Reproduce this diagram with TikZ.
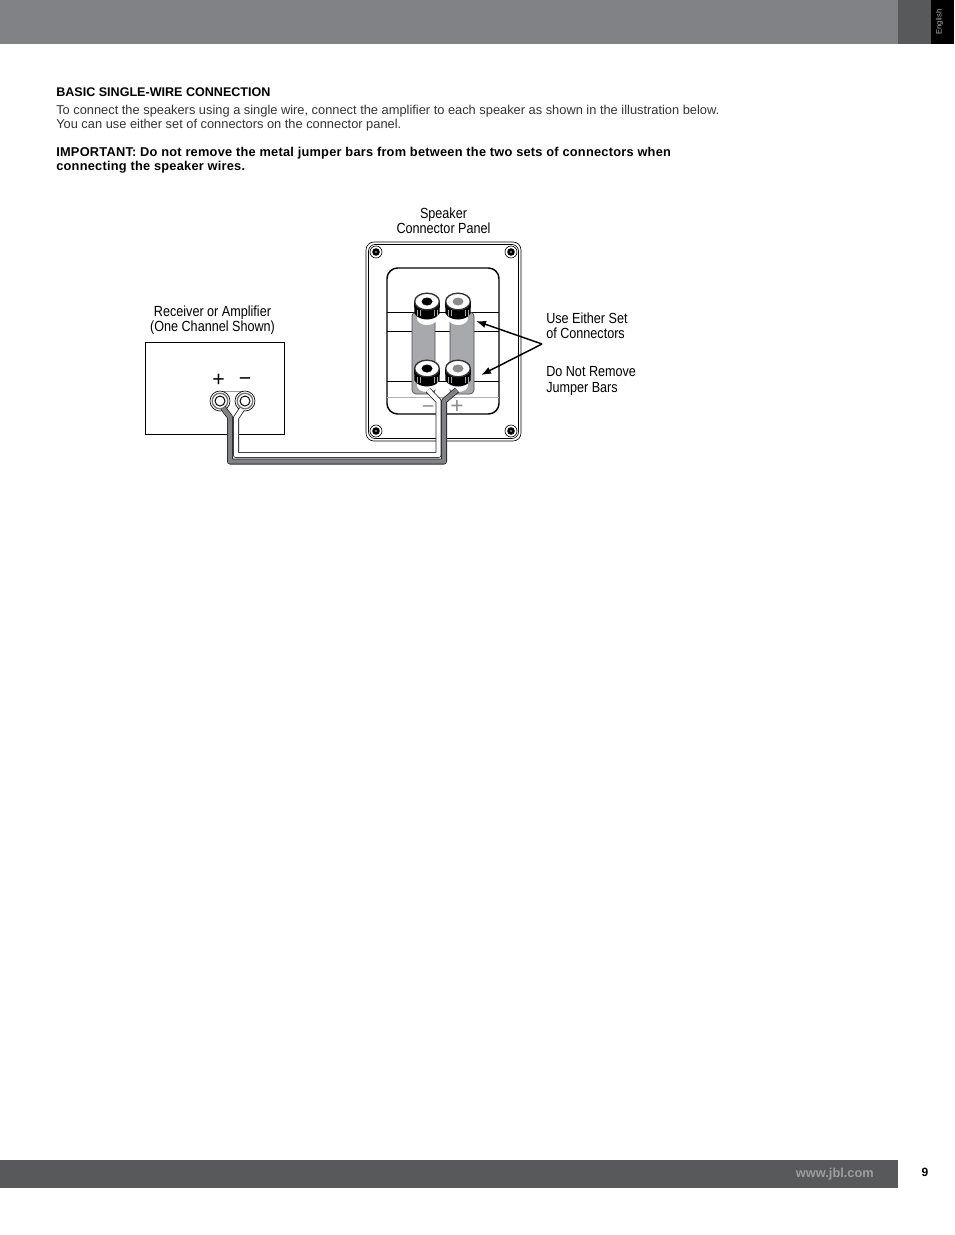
\documentclass[tikz,border=0pt]{standalone}
\usepackage{fontspec}
\setmainfont{Liberation Sans}
\newfontfamily\labelfont[FakeStretch=.86]{Liberation Sans}
\newfontfamily\boldwide[LetterSpace=1.9]{Liberation Sans Bold}
\usetikzlibrary{arrows.meta,shapes.geometric}
\definecolor{barlight}{HTML}{808285}
\definecolor{bardark}{HTML}{58595B}
\definecolor{jumper}{HTML}{A7A9AC}
\tikzset{
  bodytext/.style={anchor=north west,inner sep=0pt,align=left,text=black!80,font=\fontsize{9.63}{10.5}\selectfont},
  boldtext/.style={bodytext,text=black,font=\boldwide\fontsize{9.6}{10.5}\selectfont},
  labeltext/.style={inner sep=0pt,font=\labelfont\fontsize{11}{11.5}\selectfont},
  wireedge/.style={draw=black!85,line width=4.5pt,line join=round},
  wirefill/.style={line width=3.3pt,line join=round},
  pointer/.style={-{Latex[length=7.5pt,width=5.5pt]},line width=1.1pt},
}
\begin{document}
\begin{tikzpicture}[x=.75pt,y=-.75pt]
  \useasboundingbox (0,0) rectangle (954,1235);

  % page bars
  \fill[barlight] (0,0) rectangle (898,44);
  \fill[bardark] (898,0) rectangle (931,44);
  \fill[black] (931,0) rectangle (954,44);
  \node (lang) at (939.5,22) [rotate=90,inner sep=0pt,text=white!70!black,font=\fontsize{5.8}{6}\selectfont] {English};
  \fill[bardark] (0,1160) rectangle (898,1188);
  \node (site) at (874,1174.5) [anchor=east,inner sep=0pt,text=black!38,font=\bfseries\fontsize{9.6}{10}\selectfont] {www.jbl.com};
  \node (pagenum) at (925,1172) [inner sep=0pt,font=\bfseries\fontsize{9}{10}\selectfont] {9};

  % text above the drawing
  \node (heading) at (56,87.5) [bodytext,text=black,font=\bfseries\fontsize{9.42}{10.5}\selectfont] {BASIC SINGLE-WIRE CONNECTION};
  \node (intro) at (56,105) [bodytext] {To connect the speakers using a single wire, connect the amplifier to each speaker as shown in the illustration below.\\You can use either set of connectors on the connector panel.};
  \node (important) at (56,147) [boldtext] {IMPORTANT: Do not remove the metal jumper bars from between the two sets of connectors when\\connecting the speaker wires.};

  % labels
  \node (panellabel) at (443.5,220.5) [labeltext,align=center] {Speaker\\Connector Panel};
  \node (amplabel) at (212.5,320) [labeltext,align=center] {Receiver or Amplifier\\(One Channel Shown)};
  \node (eitherlabel) at (546,326) [labeltext,anchor=west,align=left] {Use Either Set\\of Connectors};
  \node (jumperlabel) at (546,381) [labeltext,anchor=west,align=left] {Do Not Remove\\Jumper Bars};

  % amplifier box with its two terminals
  \node (ampbox) at (215,388.75) [draw,line width=.75pt,minimum width=104.7pt,minimum height=69pt,inner sep=0pt] {};
  \node (ampplus) at (218.5,380) [inner sep=0pt,font=\fontsize{16}{17}\selectfont] {+};
  \node (ampminus) at (245,382) [inner sep=0pt,font=\fontsize{16}{17}\selectfont] {\textminus};
  \draw[black!40,line width=.75pt] (220,391) -- (245,391);
  \foreach \x/\tname in {220/termplus,245/termminus} {
    \node (\tname) at (\x,401) [circle,draw,fill=white,line width=.5pt,minimum size=15pt,inner sep=0pt] {};
    \draw[black!55,line width=1pt] (\x,401) circle (7.8);
    \draw[line width=.75pt] (\x,401) circle (5);
  }

  % speaker panel
  \draw[line width=.5pt,rounded corners=6pt] (366,242) rectangle (521,441);
  \draw[line width=.5pt,rounded corners=5pt] (368.5,244.5) rectangle (518.5,438.5);
  \foreach \x/\y in {376/252,511/252,376/431,511/431} {
    \draw[line width=.5pt] (\x,\y) circle (6);
    \fill[black] (\x,\y) circle (3.8);
    \fill[black!45] (\x,\y) circle (1.2);
  }
  \draw[line width=1.1pt,rounded corners=8pt] (387,268) rectangle (499,414);
  \draw[line width=.5pt] (387,312) -- (499,312);
  \draw[line width=.5pt] (387,331) -- (499,331);
  \draw[line width=.5pt] (387,381) -- (499,381);
  \draw[black!30,line width=.75pt] (387,397) -- (499,397);

  % jumper bars
  \draw[fill=jumper,draw=black!70,line width=.5pt,rounded corners=3pt] (412,312) rectangle (435,394);
  \draw[fill=jumper,draw=black!70,line width=.5pt,rounded corners=3pt] (450,312) rectangle (474,394);

  % binding posts
  \foreach \x/\y/\holecol/\postname in {427/301.5/black/posta,458/301.5/black!45/postb,427/368.5/black/postc,458/368.5/black!45/postd} {
    \fill[white] (\x,\y+17) ellipse (10 and 6.5);
    \fill[black] (\x-13,\y) -- (\x-12.5,\y+12) .. controls (\x-8,\y+20) and (\x+8,\y+20) .. (\x+12.5,\y+12) -- (\x+13,\y) -- cycle;
    \foreach \r in {-10,-7,7,10} {
      \draw[black!35,line width=.6pt] (\x+\r,\y+8) -- (\x+\r,\y+14);
    }
    \node (\postname) at (\x,\y) [ellipse,draw=black!80,fill=white,line width=1pt,minimum width=18.5pt,minimum height=12.5pt,inner sep=0pt] {};
    \fill[\holecol] (\x,\y) ellipse (5.5 and 4);
  }

  % panel polarity marks
  \node (panelminus) at (428,410) [inner sep=0pt,text=black!45,font=\fontsize{16}{17}\selectfont] {\textminus};
  \node (panelplus) at (457,407) [inner sep=0pt,text=black!45,font=\fontsize{17}{17}\selectfont] {+};

  % the wire, dark side outside
  \coordinate (wiregrayamp) at ([shift={(3,7)}]termplus.center);
  \coordinate (wiregraypost) at ([shift={(-1,21.5)}]postd.center);
  \coordinate (wirewhiteamp) at ([shift={(-3,8)}]termminus.center);
  \coordinate (wirewhitepost) at ([shift={(1,21.5)}]postc.center);

  \draw[wireedge] (wirewhiteamp) -- (236,418) -- (236,455) -- (438.5,455) -- (438.5,401) -- (wirewhitepost);
  \draw[wirefill,white] (wirewhiteamp) -- (236,418) -- (236,455) -- (438.5,455) -- (438.5,401) -- (wirewhitepost);
  \draw[wireedge] (wiregrayamp) -- (230,417) -- (230,461.5) -- (444,461.5) -- (444,401) -- (wiregraypost);
  \draw[wirefill,barlight] (wiregrayamp) -- (230,417) -- (230,461.5) -- (444,461.5) -- (444,401) -- (wiregraypost);

  % pointers from the labels
  \coordinate (pointerfrom) at (542,344);
  \coordinate (pointerup) at (476,321);
  \coordinate (pointerdown) at (481,375);
  \draw[pointer] (pointerfrom) -- (pointerup);
  \draw[pointer] (pointerfrom) -- (pointerdown);
\end{tikzpicture}
\end{document}
